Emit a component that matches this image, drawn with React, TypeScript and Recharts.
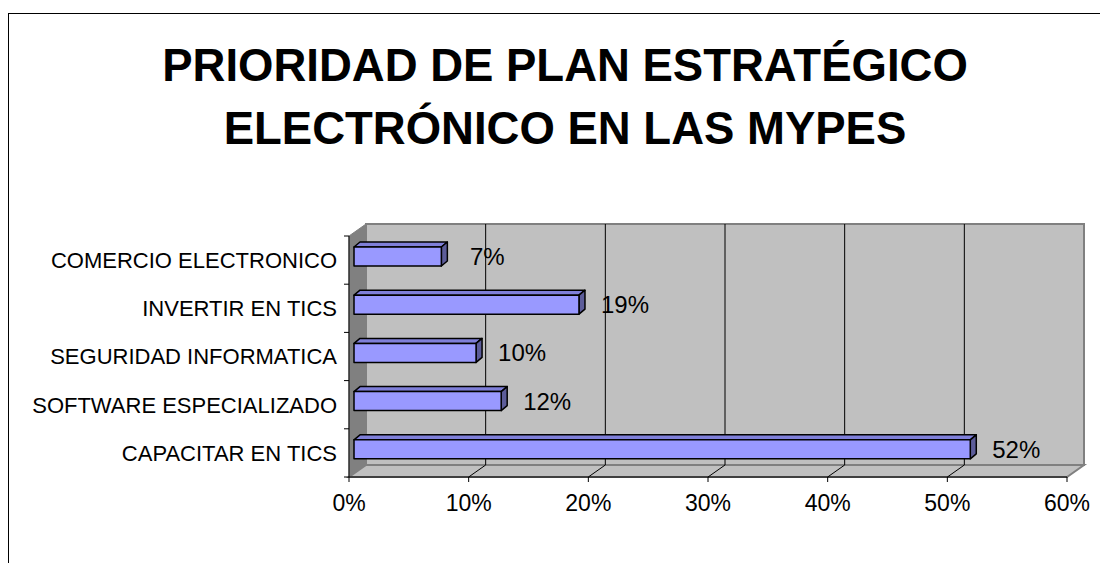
import { BarChart, Bar, XAxis, YAxis, ReferenceArea, LabelList } from "recharts";

const FONT = "'Liberation Sans', Arial, sans-serif";

const CATEGORIES = [
  "COMERCIO ELECTRONICO",
  "INVERTIR EN TICS",
  "SEGURIDAD INFORMATICA",
  "SOFTWARE ESPECIALIZADO",
  "CAPACITAR EN TICS",
];
const VALUES = [0.073, 0.188, 0.102, 0.123, 0.515];
const VALUE_LABELS = ["7%", "19%", "10%", "12%", "52%"];
const X_TICKS = [0, 0.1, 0.2, 0.3, 0.4, 0.5, 0.6];
const TITLE_LINES = ["PRIORIDAD DE PLAN ESTRATÉGICO", "ELECTRÓNICO EN LAS MYPES"];

const data = CATEGORIES.map((name, i) => ({ name, value: VALUES[i], label: VALUE_LABELS[i] }));

// 3d depth of the walls and of the bars
const DX = 17;
const DY = -12;
const BDX = 6;
const BDY = -5;
const BAR_SHIFT_X = 5;
const BAR_SHIFT_Y = -4;

/** left wall, floor, back wall and grid of the excel-like 3d box */
function Box3D(props: any) {
  const { x, y, width: w, height: h } = props;
  const n = X_TICKS.length - 1;
  const grid = X_TICKS.slice(1, -1).map((_, i) => x + (w * (i + 1)) / n);
  const cats = CATEGORIES.length;
  return (
    <g>
      <polygon
        points={`${x},${y + h} ${x},${y} ${x + DX},${y + DY} ${x + DX},${y + h + DY}`}
        fill="#808080"
        stroke="#808080"
      />
      <rect x={x + DX} y={y + DY} width={w} height={h} fill="#c0c0c0" stroke="#808080" strokeWidth={2} />
      <polygon
        points={`${x},${y + h} ${x + w},${y + h} ${x + w + DX},${y + h + DY} ${x + DX},${y + h + DY}`}
        fill="#c0c0c0"
        stroke="#808080"
        strokeWidth={2}
      />
      {grid.map((gx, i) => (
        <g key={i}>
          <line x1={gx + DX} y1={y + DY} x2={gx + DX} y2={y + h + DY} stroke="#000" strokeWidth={1} />
          <line x1={gx} y1={y + h} x2={gx + DX} y2={y + h + DY} stroke="#000" strokeWidth={1} />
        </g>
      ))}
      {Array.from({ length: cats + 1 }).map((_, k) => (
        <line key={k} x1={x - 5} y1={y + (h * k) / cats} x2={x} y2={y + (h * k) / cats} stroke="#000" />
      ))}
    </g>
  );
}

function Bar3D(props: any) {
  const { x, y, width, height } = props;
  const fx = x + BAR_SHIFT_X;
  const fy = y + BAR_SHIFT_Y;
  const w = width;
  const h = height;
  return (
    <g stroke="#000" strokeWidth={1.5} strokeLinejoin="round">
      <polygon
        points={`${fx},${fy} ${fx + BDX},${fy + BDY} ${fx + w + BDX},${fy + BDY} ${fx + w},${fy}`}
        fill="#7f7fd9"
      />
      <polygon
        points={`${fx + w},${fy} ${fx + w + BDX},${fy + BDY} ${fx + w + BDX},${fy + h + BDY} ${fx + w},${fy + h}`}
        fill="#5c5c99"
      />
      <rect x={fx} y={fy} width={w} height={h} fill="#9999ff" />
    </g>
  );
}

function ValueLabel(props: any) {
  const { x, y, width, height, index } = props;
  return (
    <text
      x={x + width + BAR_SHIFT_X + 46}
      y={y + height / 2 + BAR_SHIFT_Y}
      textAnchor="middle"
      dominantBaseline="central"
      fill="#000"
      fontSize={24}
      fontFamily={FONT}
    >
      {VALUE_LABELS[index]}
    </text>
  );
}

export default function App() {
  return (
    <div
      style={{
        position: "relative",
        width: 1100,
        height: 560,
        marginTop: 5,
        borderLeft: "1px solid #000",
        borderTop: "1px solid #000",
        boxSizing: "border-box",
        fontFamily: FONT,
      }}
    >
      <div
        style={{
          position: "absolute",
          left: 0,
          top: 20,
          width: 1112,
          textAlign: "center",
          fontSize: 45.5,
          fontWeight: "bold",
          lineHeight: "63px",
          color: "#000",
        }}
      >
        {TITLE_LINES.map((t) => (
          <div key={t}>{t}</div>
        ))}
      </div>
      <BarChart
        width={1099}
        height={549}
        data={data}
        layout="vertical"
        margin={{ top: 222, right: 41, bottom: 56, left: 10 }}
        barSize={19}
      >
        <XAxis
          type="number"
          domain={[0, 0.6]}
          ticks={X_TICKS}
          tickFormatter={(v: number) => `${Math.round(v * 100)}%`}
          height={30}
          tickSize={5}
          tickMargin={13}
          axisLine={{ stroke: "#000" }}
          tickLine={{ stroke: "#000" }}
          tick={{ fill: "#000", fontSize: 23, fontFamily: FONT }}
        />
        <YAxis
          type="category"
          dataKey="name"
          width={330}
          tickSize={0}
          tickMargin={12}
          tickLine={false}
          axisLine={{ stroke: "#000" }}
          tick={{ fill: "#000", fontSize: 22, fontFamily: FONT }}
        />
        <ReferenceArea x1={0} x2={0.6} shape={<Box3D />} ifOverflow="visible" fill="none" stroke="none" />
        <Bar dataKey="value" shape={<Bar3D />} isAnimationActive={false}>
          <LabelList dataKey="label" content={<ValueLabel />} />
        </Bar>
      </BarChart>
    </div>
  );
}
